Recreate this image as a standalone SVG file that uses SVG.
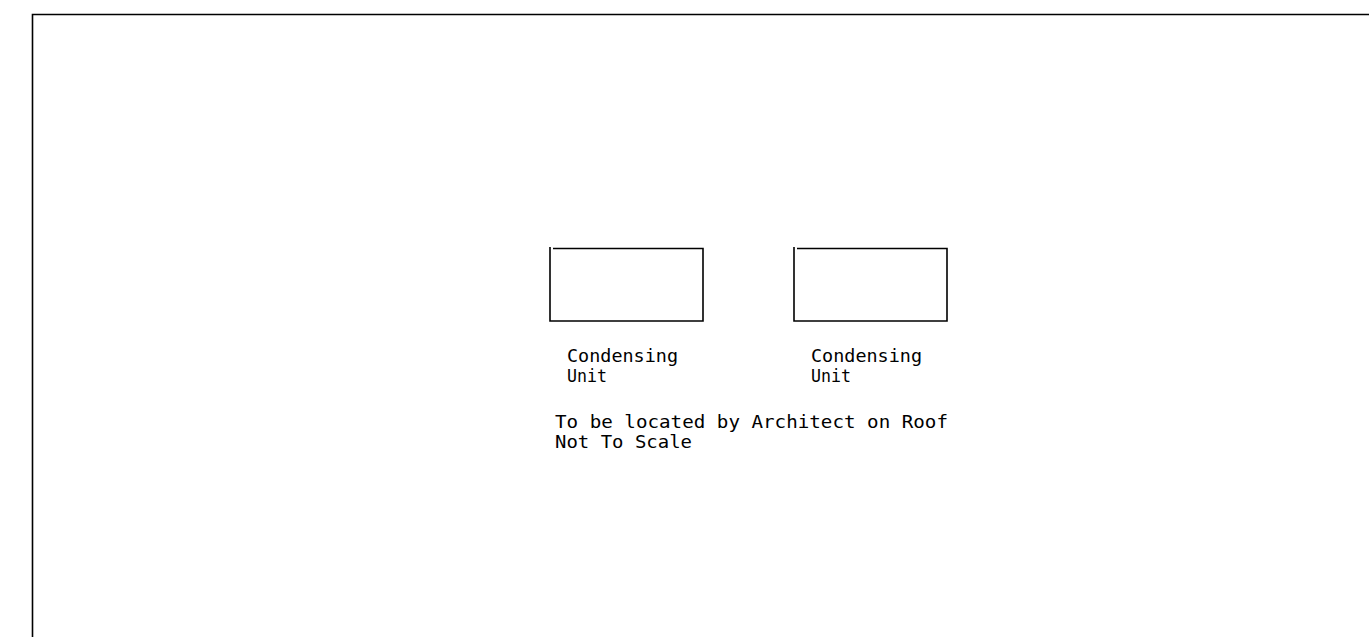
<svg xmlns="http://www.w3.org/2000/svg" width="1369" height="637" viewBox="0 0 1369 637">
<style>
.ln{fill:none;stroke:#000;stroke-width:1.6}
.t{font-family:"DejaVu Sans Mono","Liberation Mono",monospace;font-size:17px;fill:#000}
</style>
<rect x="0" y="0" width="1369" height="637" fill="#fff"/>
<g id="frame"><path class="ln" d="M32.5,640 V14.5 H1372"/></g>
<g id="unit1">
<path class="ln" d="M550,247 V321 H703 V248.5 H553"/>
<text class="t" x="567" y="361.5" textLength="111" lengthAdjust="spacingAndGlyphs">Condensing</text>
<text class="t" x="567" y="381.5" textLength="40" lengthAdjust="spacingAndGlyphs">Unit</text>
</g>
<g id="unit2">
<path class="ln" d="M794,247 V321 H947 V248.5 H797"/>
<text class="t" x="811" y="361.5" textLength="111" lengthAdjust="spacingAndGlyphs">Condensing</text>
<text class="t" x="811" y="381.5" textLength="40" lengthAdjust="spacingAndGlyphs">Unit</text>
</g>
<g id="notes">
<text class="t" x="555" y="427.5" textLength="393" lengthAdjust="spacingAndGlyphs">To be located by Architect on Roof</text>
<text class="t" x="555" y="447.5" textLength="137" lengthAdjust="spacingAndGlyphs">Not To Scale</text>
</g>
<g id="connectors"/>
</svg>
